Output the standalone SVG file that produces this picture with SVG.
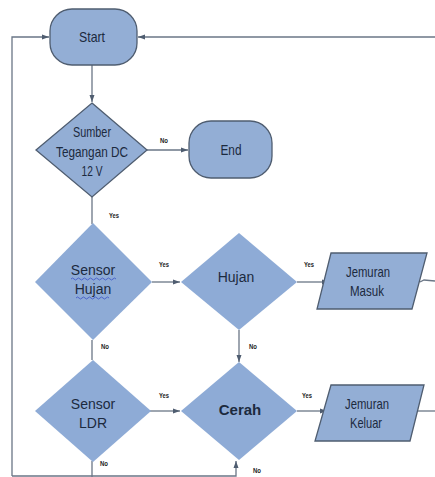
<svg xmlns="http://www.w3.org/2000/svg" width="435" height="477" viewBox="0 0 435 477">
<defs>
<style>
.sh{fill:#93aed5;stroke:#4f5d70;stroke-width:1.3}
.nb{fill:#8eabd6;stroke:none}
.ln{fill:none;stroke:#6a7686;stroke-width:1.3}
.t{font-family:"Liberation Sans",Arial,sans-serif;fill:#1c2a3e;text-anchor:middle}
.c{font-size:14.5px}
.b{font-size:15px;font-weight:bold}
.r{font-size:14px}
.lb{font-family:"Liberation Sans",Arial,sans-serif;font-size:7px;font-weight:bold;fill:#222}
</style>
<marker id="ah" markerWidth="8" markerHeight="8" refX="7" refY="4" orient="auto" markerUnits="userSpaceOnUse">
<path d="M0,1.5 L7,4 L0,6.5 Z" fill="#4f5d70"/>
</marker>
</defs>
<rect width="435" height="477" fill="#fff"/>
<g id="connectors">
<path class="ln" d="M12,476 L12,37 L49,37" marker-end="url(#ah)"/>
<path class="ln" d="M435,37 L138,37" marker-end="url(#ah)"/>
<path class="ln" d="M92,65 L92,102" marker-end="url(#ah)"/>
<path class="ln" d="M147,150 L188,150" marker-end="url(#ah)"/>
<path class="ln" d="M92,197 L92,224"/>
<path class="ln" d="M152,282 L180,282" marker-end="url(#ah)"/>
<path class="ln" d="M297,282 L329,282" marker-end="url(#ah)"/>
<path class="ln" d="M420,282 L424,280 L435,281"/>
<path class="ln" d="M239,330 L239,362" marker-end="url(#ah)"/>
<path class="ln" d="M92,340 L92,360"/>
<path class="ln" d="M150,411 L180,411" marker-end="url(#ah)"/>
<path class="ln" d="M297,411 L327,411" marker-end="url(#ah)"/>
<path class="ln" d="M417,411 L435,411"/>
<path class="ln" d="M92,461 L92,477"/>
<path class="ln" d="M12,476 L236,476 L236,461" marker-end="url(#ah)"/>
<text class="lb" x="160" y="143" textLength="8" lengthAdjust="spacingAndGlyphs">No</text>
<text class="lb" x="109" y="218" textLength="10" lengthAdjust="spacingAndGlyphs">Yes</text>
<text class="lb" x="159" y="267" textLength="10" lengthAdjust="spacingAndGlyphs">Yes</text>
<text class="lb" x="304" y="267" textLength="10" lengthAdjust="spacingAndGlyphs">Yes</text>
<text class="lb" x="101" y="349" textLength="8" lengthAdjust="spacingAndGlyphs">No</text>
<text class="lb" x="249" y="349" textLength="8" lengthAdjust="spacingAndGlyphs">No</text>
<text class="lb" x="159" y="398" textLength="10" lengthAdjust="spacingAndGlyphs">Yes</text>
<text class="lb" x="302" y="398" textLength="10" lengthAdjust="spacingAndGlyphs">Yes</text>
<text class="lb" x="100" y="466" textLength="8" lengthAdjust="spacingAndGlyphs">No</text>
<text class="lb" x="253" y="473" textLength="8" lengthAdjust="spacingAndGlyphs">No</text>
</g>
<g id="start">
<rect class="sh" x="50" y="9" width="87" height="56" rx="22"/>
<text class="t c" x="92" y="42" textLength="26" lengthAdjust="spacingAndGlyphs">Start</text>
</g>
<g id="sumber">
<polygon class="sh" points="92,103 147,150 92,197 36,150"/>
<text class="t c" x="92" y="137" textLength="38" lengthAdjust="spacingAndGlyphs">Sumber</text>
<text class="t c" x="92" y="157" textLength="72" lengthAdjust="spacingAndGlyphs">Tegangan DC</text>
<text class="t c" x="92" y="176" textLength="21" lengthAdjust="spacingAndGlyphs">12 V</text>
</g>
<g id="end">
<rect class="sh" x="189" y="121" width="83" height="57" rx="22"/>
<text class="t c" x="231" y="155" textLength="21" lengthAdjust="spacingAndGlyphs">End</text>
</g>
<g id="sensor-hujan">
<polygon class="nb" points="93,223 152,282 93,340 35,282"/>
<text class="t r" x="93" y="275" fill="#1f3a7a">Sensor</text>
<text class="t r" x="93" y="294" fill="#1f3a7a">Hujan</text>
<path d="M71,279 q1.5,-2 3,0 t3,0 t3,0 t3,0 t3,0 t3,0 t3,0 t3,0 t3,0 t3,0 t3,0 t3,0 t3,0 t3,0 t3,0" fill="none" stroke="#3a50c8" stroke-width="0.8"/>
<path d="M76,298 q1.5,-2 3,0 t3,0 t3,0 t3,0 t3,0 t3,0 t3,0 t3,0 t3,0 t3,0 t3,0" fill="none" stroke="#3a50c8" stroke-width="0.8"/>
</g>
<g id="hujan">
<polygon class="nb" points="239,233 297,282 239,330 181,282"/>
<text class="t r" x="236" y="282" font-size="15">Hujan</text>
</g>
<g id="jemuran-masuk">
<polygon class="sh" points="331,253 427,253 412,309 317,309"/>
<text class="t c" x="368" y="277" textLength="44" lengthAdjust="spacingAndGlyphs">Jemuran</text>
<text class="t c" x="367" y="296" textLength="34" lengthAdjust="spacingAndGlyphs">Masuk</text>
</g>
<g id="sensor-ldr">
<polygon class="nb" points="93,360 151,411 93,462 35,411"/>
<text class="t r" x="93" y="409">Sensor</text>
<text class="t r" x="93" y="428">LDR</text>
</g>
<g id="cerah">
<polygon class="nb" points="239,362 297,411 239,460 181,411"/>
<text class="t b" x="240" y="415">Cerah</text>
</g>
<g id="jemuran-keluar">
<polygon class="sh" points="331,385 424,385 410,441 315,441"/>
<text class="t c" x="367" y="409" textLength="44" lengthAdjust="spacingAndGlyphs">Jemuran</text>
<text class="t c" x="366" y="428" textLength="32" lengthAdjust="spacingAndGlyphs">Keluar</text>
</g>
</svg>
